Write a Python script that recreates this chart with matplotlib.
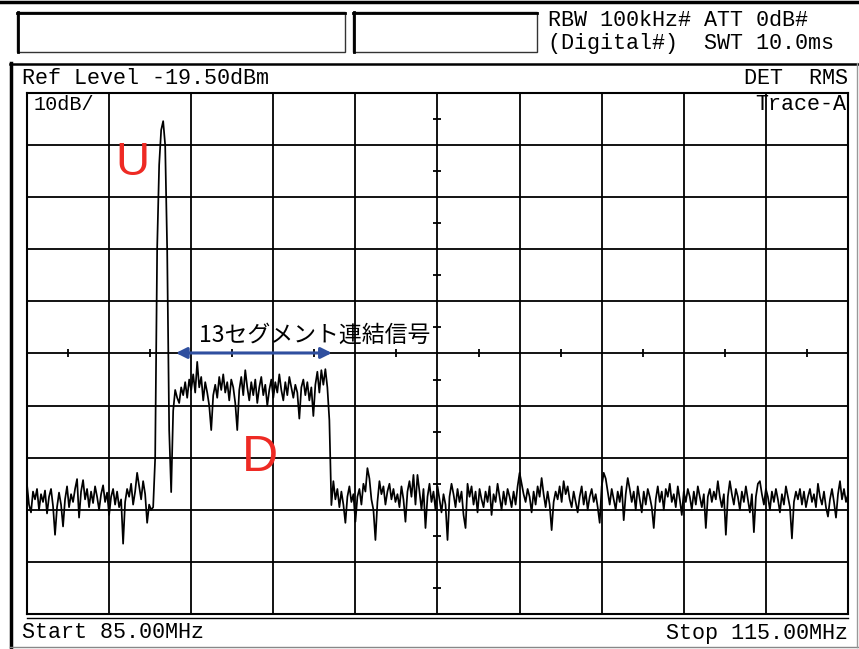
import numpy as np
import matplotlib
matplotlib.use("Agg")
import matplotlib.pyplot as plt
from matplotlib.patches import Rectangle

# sweep settings (from the screen)
f_start = 85.0
f_stop = 115.0
ref_level = -19.5
db_per_div = 10

# trace level (dBm) left to right
noise_low = [-94.7, -98.5, -100.0, -96.0, -97.5, -95.5, -99.5, -96.5, -98.0, -95.8,
             -100.2, -97.0, -95.5, -98.8, -104.3, -99.0, -96.2, -98.5, -102.7, -97.5,
             -95.0, -99.0, -96.5, -98.0, -95.5, -93.6, -101.0, -96.0, -93.8, -97.5,
             -95.5, -99.0, -96.0, -98.2, -95.0, -97.0, -99.5, -96.5, -94.8, -98.0,
             -96.2, -100.5, -97.0, -95.5, -98.5, -96.0, -99.0, -97.5, -106.0, -98.0,
             -95.5, -97.0, -94.5, -98.5, -96.0, -92.4, -95.0, -97.5, -94.0, -96.5,
             -102.0, -98.5, -99.5, -99.0]
carrier_u = [-89.6, -49.3, -33.3, -26.6, -24.9, -29.5, -49.6, -84.2, -96.1, -80.5,
             -76.5, -78.0]
segments_d = [-79.0, -76.0, -77.5, -75.0, -78.0, -74.5, -76.5, -73.5, -77.0, -71.1,
              -76.0, -74.0, -78.5, -75.0, -77.0, -79.5, -84.2, -77.5, -75.5, -78.0,
              -74.0, -76.5, -73.5, -77.0, -75.0, -78.5, -74.5, -76.0, -79.0, -84.2,
              -76.5, -74.0, -77.5, -72.7, -76.0, -78.5, -75.0, -77.5, -74.5, -79.0,
              -76.0, -74.0, -77.5, -75.5, -79.5, -76.5, -74.5, -78.0, -75.0, -77.0,
              -73.5, -76.5, -78.5, -75.0, -77.5, -74.0, -76.0, -78.0, -75.5, -77.0,
              -82.0, -76.0, -74.5, -77.5, -75.0, -78.5, -76.0, -81.5, -75.5, -73.0,
              -77.0, -72.7, -75.5, -72.5, -76.0, -82.3, -98.6]
noise_high = [-94.0, -97.5, -95.5, -99.0, -96.0, -98.5, -102.0, -97.0, -95.0, -98.0,
              -96.5, -101.8, -97.0, -95.5, -98.5, -94.5, -96.0, -91.5, -93.5, -97.5,
              -99.5, -105.3, -98.0, -94.0, -96.5, -95.0, -98.5, -96.0, -94.5, -97.5,
              -95.5, -98.0, -96.5, -99.0, -95.0, -97.5, -101.8, -96.0, -94.0, -97.0,
              -92.8, -98.5, -92.8, -96.0, -99.5, -95.5, -103.0, -97.0, -94.5, -98.0,
              -96.0, -99.5, -95.0, -97.5, -100.0, -96.5, -98.5, -105.3, -97.0, -94.5,
              -96.5, -99.0, -95.5, -98.0, -96.0, -100.5, -103.0, -94.5, -97.0, -95.0,
              -98.5, -96.0, -100.0, -95.5, -97.5, -99.0, -96.0, -98.0, -95.0, -100.5,
              -96.5, -98.0, -94.5, -97.0, -99.5, -96.0, -98.5, -95.5, -97.0, -99.0,
              -96.0, -98.5, -95.0, -92.4, -94.5, -96.5, -98.0, -95.5, -97.0, -100.0,
              -96.0, -98.5, -95.0, -97.0, -93.4, -96.5, -99.0, -96.0, -98.5, -103.4,
              -98.0, -96.0, -97.5, -95.0, -98.0, -94.0, -96.5, -95.0, -97.5, -99.0,
              -96.0, -98.0, -100.0, -97.0, -95.0, -98.5, -96.0, -99.5, -97.0, -95.5,
              -98.0, -96.5, -99.0, -102.0, -95.0, -92.4, -93.5, -96.0, -98.5, -95.5,
              -97.5, -99.5, -96.0, -98.0, -95.0, -101.5, -96.5, -93.4, -95.5, -98.0,
              -96.0, -99.5, -95.0, -97.5, -100.0, -96.0, -98.5, -95.5, -97.0, -99.0,
              -103.0, -97.5, -95.0, -98.0, -96.0, -99.5, -95.5, -97.0, -94.5, -98.0,
              -96.5, -99.0, -95.0, -97.5, -100.5, -96.0, -98.0, -95.5, -97.0, -99.5,
              -96.0, -98.5, -95.0, -97.0, -99.0, -96.5, -103.0, -97.0, -95.5, -98.0,
              -96.0, -97.5, -94.0, -97.0, -99.0, -96.5, -104.3, -97.0, -94.0, -96.5,
              -98.5, -95.5, -97.0, -99.5, -96.0, -98.0, -95.0, -97.5, -100.0, -96.5,
              -103.8, -97.0, -94.5, -94.0, -96.5, -98.5, -95.5, -97.0, -99.5, -96.0,
              -98.0, -95.5, -97.5, -100.0, -96.5, -98.5, -95.0, -97.0, -99.0, -105.0,
              -98.0, -96.0, -97.5, -95.5, -98.5, -96.0, -99.0, -97.0, -95.5, -98.0,
              -96.5, -99.0, -94.5, -97.0, -98.5, -96.0, -99.0, -100.8, -97.5, -95.5,
              -98.0, -101.0, -96.5, -94.0, -97.5, -95.5, -98.0, -96.5]

level = np.array(noise_low + carrier_u + segments_d + noise_high)
freq = np.linspace(f_start, f_stop, len(level))

W, H = 859, 649
fig = plt.figure(figsize=(W / 100, H / 100), dpi=100)
mono = "Liberation Mono"

# screen frame / header drawn in pixel coords
bg = fig.add_axes([0, 0, 1, 1])
bg.set_xlim(0, W)
bg.set_ylim(H, 0)
bg.axis("off")
bg.plot([0, W], [1.5, 1.5], color="black", lw=2.5)
for x0, x1 in [(17, 345), (353, 537)]:
    bg.add_patch(Rectangle((x0, 12), x1 - x0, 40, fill=False, ec="#333333", lw=1.0))
    bg.plot([x0, x1], [12.5, 12.5], color="black", lw=2.0)
    bg.plot([x0 + 0.5, x0 + 0.5], [12, 52], color="black", lw=2.0)
bg.text(548, 20, "RBW 100kHz# ATT 0dB#", family=mono, fontsize=15.7, va="center")
bg.text(548, 44, "(Digital#)  SWT 10.0ms", family=mono, fontsize=15.7, va="center")
bg.plot([10, W], [63.5, 63.5], color="black", lw=1.8)
bg.plot([10.5, 10.5], [63, H], color="black", lw=2.5)
bg.plot([10, W], [647, 647], color="#888888", lw=1.0)
bg.plot([857, 857], [63, 647], color="#999999", lw=1.0)
bg.text(22, 78, "Ref Level -19.50dBm", family=mono, fontsize=15.7, va="center")
bg.text(848, 78, "DET  RMS", family=mono, fontsize=15.7, va="center", ha="right")
bg.text(22, 633, "Start 85.00MHz", family=mono, fontsize=15.7, va="center")
bg.text(848, 633, "Stop 115.00MHz", family=mono, fontsize=15.7, va="center", ha="right")
bg.plot([27, 848], [617.5, 617.5], color="black", lw=1.0)

# graticule
ax = fig.add_axes([27 / W, 1 - 614 / H, 821 / W, 521 / H])
ax.set_xlim(f_start, f_stop)
ax.set_ylim(ref_level - 10 * db_per_div, ref_level)
xt = np.linspace(f_start, f_stop, 11)
yt = np.linspace(ref_level - 10 * db_per_div, ref_level, 11)
ax.set_xticks(xt)
ax.set_yticks(yt)
ax.tick_params(length=0, labelbottom=False, labelleft=False)
ax.grid(True, color="black", lw=1.3)
for s in ax.spines.values():
    s.set_linewidth(1.5)
xc = (f_start + f_stop) / 2
yc = ref_level - 5 * db_per_div
half_x = (xt[:-1] + xt[1:]) / 2
half_y = (yt[:-1] + yt[1:]) / 2
ax.plot(half_x, np.full_like(half_x, yc), ls="none", marker="|", ms=6, mew=1.3, color="black")
ax.plot(np.full_like(half_y, xc), half_y, ls="none", marker="_", ms=6, mew=1.3, color="black")

ax.plot(freq, level, color="black", lw=1.25)

ax.text(85.25, ref_level - 2.2, "10dB/", family=mono, fontsize=14.5, va="center")
ax.text(114.95, ref_level - 2.2, "Trace-A", family=mono, fontsize=15.7, va="center", ha="right")

# annotations
red = "#ee2a24"
ax.text(88.87, -32.9, "U", color=red, fontsize=34, family="Liberation Sans",
        ha="center", va="center")
ax.text(93.51, -89.6, "D", color=red, fontsize=36, family="Liberation Sans",
        ha="center", va="center")
ax.annotate("", xy=(90.44, -69.4), xytext=(96.14, -69.4),
            arrowprops=dict(arrowstyle="<|-|>", color="#2f4f9f", lw=2.2,
                            mutation_scale=16, shrinkA=0, shrinkB=0))
ax.text(91.3, -65.9, "13セグメント連結信号", family=["Noto Sans CJK JP", "DejaVu Sans"],
        fontsize=16.5, va="center", ha="left")

fig.savefig("out.png", dpi=100)
